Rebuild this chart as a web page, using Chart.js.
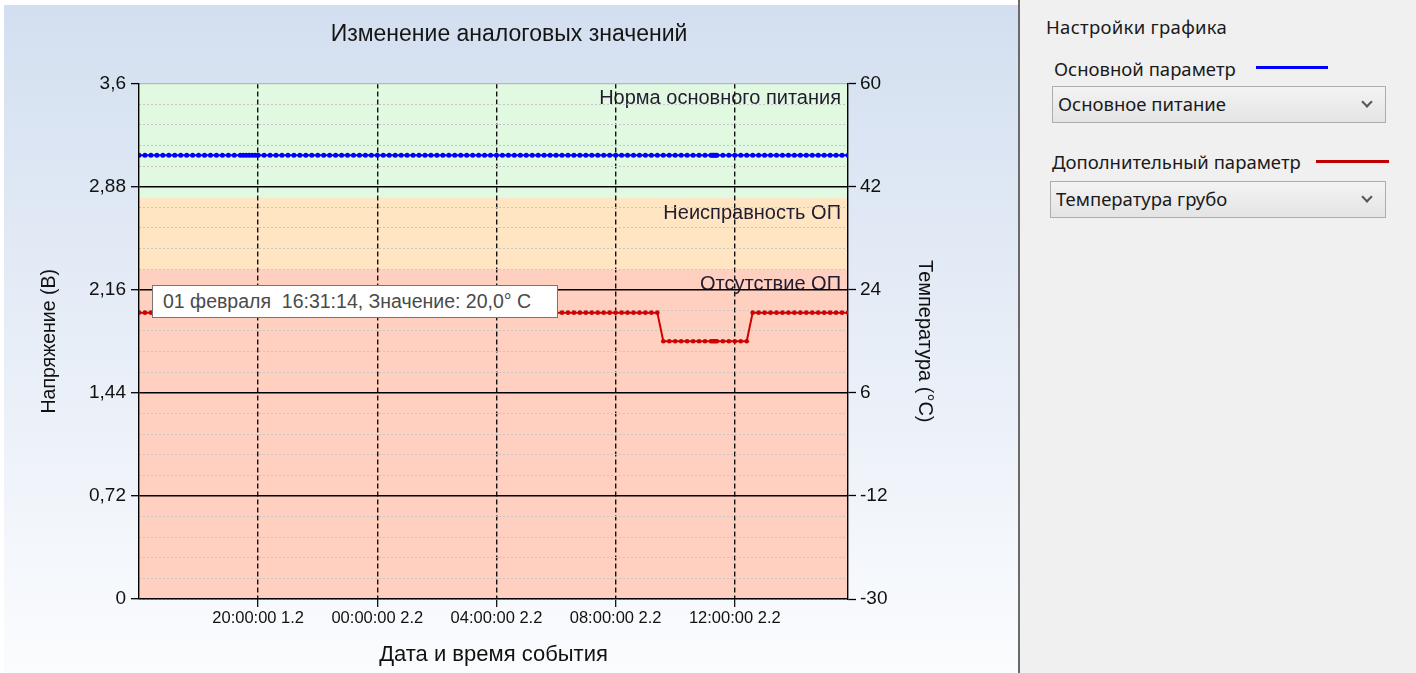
<!DOCTYPE html>
<html><head><meta charset="utf-8">
<script src="https://cdn.jsdelivr.net/npm/chart.js@4.4.1/dist/chart.umd.min.js"></script>
<style>
html,body{margin:0;padding:0;background:#fff;width:1416px;height:673px;overflow:hidden;}
#wrap{position:absolute;left:0;top:0;width:1018px;height:673px;}
#sep{position:absolute;left:1018px;top:0;width:2px;height:673px;background:#6a6a6a;}
#panel{position:absolute;left:1020px;top:0;width:396px;height:673px;background:#f0f0f0;font-family:"Noto Sans","Liberation Sans",sans-serif;color:#1a1a1a;font-size:18.5px;}
.lbl{position:absolute;white-space:nowrap;line-height:22px;}
.ln{position:absolute;height:3px;}
.combo{position:absolute;height:35px;border:1px solid #adadad;background:linear-gradient(#f3f3f3,#e4e4e4);box-sizing:content-box;}
.combo span{position:absolute;left:5px;top:6px;line-height:22px;white-space:nowrap;}
.combo i{position:absolute;right:14px;top:11px;width:6px;height:6px;border-right:2px solid #555;border-bottom:2px solid #555;transform:rotate(45deg);}
#tip{position:absolute;left:152px;top:285px;width:394px;height:31px;border:1px solid #767676;background:#fff;font-family:"Liberation Sans",sans-serif;font-size:19.5px;color:#4a4a4a;line-height:31px;padding-left:10px;box-sizing:content-box;white-space:pre;}
</style></head>
<body>
<div id="wrap"><canvas id="c" width="1018" height="673"></canvas>
<div id="tip">01 февраля  16:31:14, Значение: 20,0° C</div>
</div>
<div id="sep"></div>
<div id="panel">
  <div class="lbl" style="left:26px;top:16px;letter-spacing:0.3px;">Настройки графика</div>
  <div class="lbl" style="left:34px;top:58px;">Основной параметр</div>
  <div class="ln" style="left:236px;top:66px;width:72px;background:#0000ff;"></div>
  <div class="combo" style="left:32px;top:86px;width:332px;"><span>Основное питание</span><i></i></div>
  <div class="lbl" style="left:32px;top:151px;">Дополнительный параметр</div>
  <div class="ln" style="left:296px;top:160px;width:73px;background:#c00000;"></div>
  <div class="combo" style="left:30px;top:181px;width:334px;"><span>Температура грубо</span><i></i></div>
</div>
<script>
// ---- data ----
const times = [
 "16:00","16:12","16:24","16:36","16:48","17:00","17:12","17:24","17:36","17:48",
 "18:00","18:12","18:24","18:36","18:48","19:00","19:12","19:24","19:30","19:36",
 "19:42","19:48","19:54","20:00","20:12","20:24","20:36","20:48","21:00","21:12",
 "21:24","21:36","21:48","22:00","22:12","22:24","22:36","22:48","23:00","23:12",
 "23:24","23:36","23:48",
 "00:00","00:12","00:24","00:36","00:48","01:00","01:12","01:24","01:36","01:48",
 "02:00","02:12","02:24","02:36","02:48","03:00","03:12","03:24","03:36","03:48",
 "04:00","04:12","04:24","04:36","04:48","05:00","05:12","05:24","05:36","05:48",
 "06:00","06:12","06:24","06:36","06:48","07:00","07:12","07:24","07:36","07:48",
 "08:00","08:12","08:24","08:36","08:48","09:00","09:12","09:24",
 "09:36","09:48","10:00","10:12","10:24","10:36","10:48","11:00","11:12","11:15",
 "11:18","11:21","11:24","11:36","11:48","12:00","12:12","12:24",
 "12:36","12:48","13:00","13:12","13:24","13:36","13:48","14:00","14:12","14:24",
 "14:36","14:48","15:00","15:12","15:24","15:36","15:48"
];
const voltage = [
 3.1,3.1,3.1,3.1,3.1,3.1,3.1,3.1,3.1,3.1,
 3.1,3.1,3.1,3.1,3.1,3.1,3.1,3.1,3.1,3.1,
 3.1,3.1,3.1,3.1,3.1,3.1,3.1,3.1,3.1,3.1,
 3.1,3.1,3.1,3.1,3.1,3.1,3.1,3.1,3.1,3.1,
 3.1,3.1,3.1,
 3.1,3.1,3.1,3.1,3.1,3.1,3.1,3.1,3.1,3.1,
 3.1,3.1,3.1,3.1,3.1,3.1,3.1,3.1,3.1,3.1,
 3.1,3.1,3.1,3.1,3.1,3.1,3.1,3.1,3.1,3.1,
 3.1,3.1,3.1,3.1,3.1,3.1,3.1,3.1,3.1,3.1,
 3.1,3.1,3.1,3.1,3.1,3.1,3.1,3.1,
 3.1,3.1,3.1,3.1,3.1,3.1,3.1,3.1,3.1,3.1,
 3.1,3.1,3.1,3.1,3.1,3.1,3.1,3.1,
 3.1,3.1,3.1,3.1,3.1,3.1,3.1,3.1,3.1,3.1,
 3.1,3.1,3.1,3.1,3.1,3.1,3.1
];
const temperature = [
 20,20,20,20,20,20,20,20,20,20,
 20,20,20,20,20,20,20,20,20,20,
 20,20,20,20,20,20,20,20,20,20,
 20,20,20,20,20,20,20,20,20,20,
 20,20,20,
 20,20,20,20,20,20,20,20,20,20,
 20,20,20,20,20,20,20,20,20,20,
 20,20,20,20,20,20,20,20,20,20,
 20,20,20,20,20,20,20,20,20,20,
 20,20,20,20,20,20,20,20,
 15,15,15,15,15,15,15,15,15,15,
 15,15,15,15,15,15,15,15,
 20,20,20,20,20,20,20,20,20,20,
 20,20,20,20,20,20,20
];
const xTickTimes = ["20:00","00:00","04:00","08:00","12:00"];
const xTickLabels = ["20:00:00 1.2","00:00:00 2.2","04:00:00 2.2","08:00:00 2.2","12:00:00 2.2"];
const yTicks = [0,0.72,1.44,2.16,2.88,3.6];
const yTickLabels = ["0","0,72","1,44","2,16","2,88","3,6"];
const y2Ticks = [-30,-12,6,24,42,60];
const y2TickLabels = ["-30","-12","6","24","42","60"];
const bandTops = [3.6, 2.8, 2.3];
const bandBottoms = [2.8, 2.3, 0];
const bandNames = ["Норма основного питания","Неисправность ОП","Отсутствие ОП"];
const bandColors = ["#e1f9e1","#ffe5c2","#ffcfc0"];

// ---- helpers ----
function toHours(list){
  let out=[], off=0, prev=-1;
  list.forEach(s=>{const p=s.split(':');let h=+p[0]+(+p[1])/60; if(h+off<prev) off+=24; h+=off; out.push(h); prev=h;});
  return out;
}
const hours = toHours(times);
const tickHours = toHours(["16:00"].concat(xTickTimes)).slice(1);
const F = '"Liberation Sans", Arial, sans-serif';
const xFont = {family:F,size:16.5};
const yFont = {family:F,size:19};

const bgPlugin = {
  id:'bg',
  beforeDraw(chart){
    const {ctx, chartArea:a, scales:{y}} = chart;
    ctx.save();
    const g = ctx.createLinearGradient(0,5,0,673);
    g.addColorStop(0,'#d3dff0'); g.addColorStop(1,'#fbfcfe');
    ctx.fillStyle=g; ctx.fillRect(4,5,chart.width-4,chart.height-5);
    bandTops.forEach((t,i)=>{
      const y1=y.getPixelForValue(t), y2=y.getPixelForValue(bandBottoms[i]);
      ctx.fillStyle=bandColors[i]; ctx.fillRect(a.left,y1,a.right-a.left,y2-y1);
    });
    ctx.fillStyle='#221c30'; ctx.font='20px '+F; ctx.textAlign='right'; ctx.textBaseline='top';
    bandTops.forEach((t,i)=>{ ctx.fillText(bandNames[i], a.right-7, y.getPixelForValue(t)+5); });
    ctx.restore();
  }
};

const mk = (arr)=>arr.map((v,i)=>({x:hours[i],y:v}));
new Chart(document.getElementById('c'),{
  type:'line',
  data:{datasets:[
    {label:'Основное питание',data:mk(voltage),yAxisID:'y',borderColor:'#0000ff',backgroundColor:'#0000ff',borderWidth:2,pointRadius:2.5,pointBorderWidth:0,tension:0},
    {label:'Температура грубо',data:mk(temperature),yAxisID:'y2',borderColor:'#d00000',backgroundColor:'#d00000',borderWidth:2,pointRadius:2.3,pointBorderWidth:0,tension:0}
  ]},
  plugins:[bgPlugin],
  options:{
    responsive:false, animation:false, events:[],
    layout:{padding:0},
    plugins:{
      legend:{display:false}, tooltip:{enabled:false},
      title:{display:true,text:'Изменение аналоговых значений',color:'#151515',font:{family:F,size:23,weight:'normal'},padding:{top:21,bottom:35}}
    },
    scales:{
      x:{type:'linear',min:hours[0],max:hours[hours.length-1],
        afterBuildTicks:s=>{s.ticks=tickHours.map(v=>({value:v}));},
        ticks:{autoSkip:false,maxRotation:0,padding:2,color:'#111',font:xFont,callback:(v,i)=>xTickLabels[i]},
        grid:{color:'#111',lineWidth:1.4,tickLength:8,tickColor:'#000',tickWidth:1.2},
        border:{display:false,dash:[5,3]},
        title:{display:true,text:'Дата и время события',color:'#111',font:{family:F,size:22},padding:{top:0,bottom:5}},
        afterFit:s=>{s.height=74;}
      },
      ym:{position:'left',min:0,max:3.6,z:-1,
        afterBuildTicks:s=>{const t=[];for(let k=0;k<=25;k++)t.push({value:k*0.144});s.ticks=t;},
        ticks:{display:false},grid:{color:'#c6c6c6',drawTicks:false},border:{display:false,dash:[2,2]},
        afterFit:s=>{s.width=0;}
      },
      y:{position:'left',min:0,max:3.6,
        afterBuildTicks:s=>{s.ticks=yTicks.map(v=>({value:v}));},
        ticks:{autoSkip:false,padding:5,color:'#111',font:yFont,callback:(v,i)=>yTickLabels[i]},
        grid:{color:c=>(c.tick&&c.tick.value===3.6)?'#b8b8b8':'#000',lineWidth:c=>(c.tick&&c.tick.value===3.6)?1.2:1.4,tickColor:'#000',tickLength:8,tickWidth:1.3},
        border:{color:'#000',width:1.4},
        title:{display:true,text:'Напряжение (В)',color:'#111',font:{family:F,size:19.5},padding:{top:38,bottom:0}},
        afterFit:s=>{s.width=139;}
      },
      y2:{position:'right',min:-30,max:60,
        afterBuildTicks:s=>{s.ticks=y2Ticks.map(v=>({value:v}));},
        ticks:{autoSkip:false,padding:4,color:'#111',font:yFont,callback:(v,i)=>y2TickLabels[i]},
        grid:{drawOnChartArea:false,tickColor:'#000',tickLength:8,tickWidth:1.3},
        border:{color:'#000',width:1.4},
        title:{display:true,text:'Температура (°C)',color:'#111',font:{family:F,size:20},padding:{top:81,bottom:0}},
        afterFit:s=>{s.width=170;}
      }
    }
  }
});
</script>
</body></html>
